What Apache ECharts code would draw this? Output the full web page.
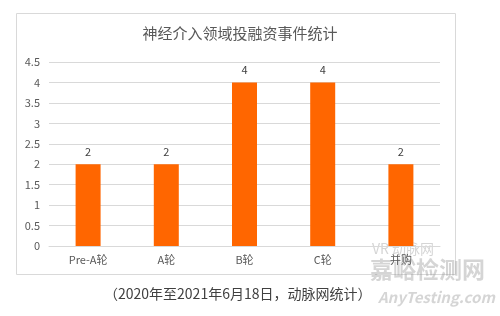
<!DOCTYPE html>
<html><head><meta charset="utf-8">
<script src="https://cdn.jsdelivr.net/npm/echarts@6/dist/echarts.min.js"></script>
<style>html,body{margin:0;padding:0;background:#fff}#c{width:500px;height:316px}</style>
</head><body><div id="c"></div>
<script>
const titleText = '神经介入领域投融资事件统计';
const categories = ['Pre-A轮', 'A轮', 'B轮', 'C轮', '并购'];
const values = [2, 2, 4, 4, 2];
const yTicks = [0, 0.5, 1, 1.5, 2, 2.5, 3, 3.5, 4, 4.5];
const caption = '（2020年至2021年6月18日，动脉网统计）';

const chart = echarts.init(document.getElementById('c'));
const font = '"Noto Sans CJK SC", "Noto Sans", sans-serif';
chart.setOption({
  animation: false,
  title: {
    text: titleText, left: 235, top: 21, textAlign: 'center',
    textStyle: {fontSize: 15, fontWeight: 'normal', color: '#595959', fontFamily: font}
  },
  grid: {left: 49, right: 60, top: 62, bottom: 70, containLabel: false},
  xAxis: {
    type: 'category', data: categories,
    axisLine: {lineStyle: {color: '#d9d9d9'}},
    axisTick: {show: false},
    axisLabel: {color: '#595959', fontSize: 11, fontFamily: font, margin: 8}
  },
  yAxis: {
    type: 'value', min: yTicks[0], max: yTicks[yTicks.length - 1], interval: 0.5,
    axisLine: {show: false}, axisTick: {show: false},
    splitLine: {lineStyle: {color: '#d9d9d9'}},
    axisLabel: {color: '#595959', fontSize: 11, fontFamily: font, margin: 9}
  },
  series: [{
    type: 'bar', data: values, barWidth: 25,
    itemStyle: {color: '#ff6600'},
    label: {show: true, position: 'top', color: '#404040', fontSize: 11, fontFamily: font, distance: 7}
  }],
  graphic: [
    {type: 'rect', shape: {x: 16.5, y: 13.5, width: 439, height: 261},
     style: {fill: 'none', stroke: '#d9d9d9', lineWidth: 1}, z: -1},
    {type: 'text', left: 104, top: 287,
     style: {text: caption, fontSize: 14, fill: '#404040', fontFamily: font}},
    {type: 'text', left: 370, top: 258,
     style: {text: '嘉峪检测网', fontSize: 23, fontWeight: 'bold', fill: 'rgba(150,150,150,0.4)', fontFamily: font}},
    {type: 'text', left: 378, top: 290,
     style: {text: 'AnyTesting.com', fontSize: 15, fontStyle: 'italic', fontWeight: 'bold', fill: 'rgba(150,150,150,0.4)', fontFamily: font}},
    {type: 'text', left: 372, top: 242,
     style: {text: 'VR 动脉网', fontSize: 14, fill: 'rgba(150,150,150,0.4)', fontFamily: font}}
  ]
});
</script></body></html>
